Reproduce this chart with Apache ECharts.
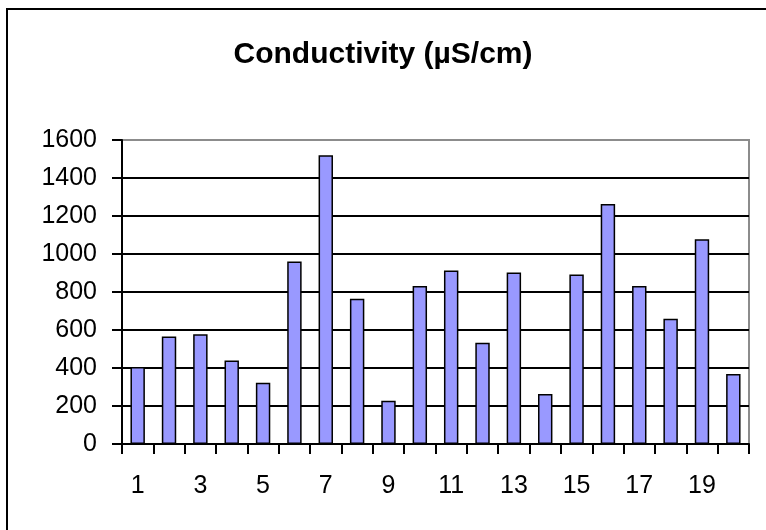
<!DOCTYPE html>
<html>
<head>
<meta charset="utf-8">
<script src="https://cdn.jsdelivr.net/npm/echarts@6/dist/echarts.min.js"></script>
<style>
  html, body { margin: 0; padding: 0; background: #fff; }
  #chart { width: 766px; height: 530px; }
</style>
</head>
<body>
<div id="chart"></div>
<script>
// sample numbers 1..20
const categories = ['1', '2', '3', '4', '5', '6', '7', '8', '9', '10',
  '11', '12', '13', '14', '15', '16', '17', '18', '19', '20']
// conductivity, µS/cm
const conductivity = [405, 566, 578, 440, 322, 960, 1520, 764, 228, 832,
  913, 533, 902, 263, 892, 1263, 832, 659, 1078, 368]
const yTicks = [0, 200, 400, 600, 800, 1000, 1200, 1400, 1600]

const font = '"Liberation Sans", Arial, sans-serif'
let chart = echarts.init(document.getElementById('chart'))

// top split line (1600) is the grey plot border, the rest black
const splitColors = yTicks.map((v, i) => i === yTicks.length - 1 ? '#8c8c8c' : '#000')

let option = {
  animation: false,
  backgroundColor: '#fff',
  title: {
    text: 'Conductivity (µS/cm)',
    left: 'center',
    top: 35,
    textStyle: {
      fontFamily: font,
      fontWeight: 'bold',
      fontSize: 30,
      color: '#000'
    }
  },
  graphic: [{
    type: 'rect',
    shape: { x: 7, y: 9, width: 800, height: 600 },
    style: { fill: 'none', stroke: '#000', lineWidth: 2 },
    silent: true
  }],
  grid: {
    left: 122,
    right: 17,
    top: 140,
    bottom: 86,
    show: true,
    backgroundColor: '#fff',
    borderColor: '#8c8c8c',
    borderWidth: 2
  },
  xAxis: {
    type: 'category',
    data: categories,
    axisLine: { lineStyle: { color: '#000', width: 2 } },
    axisTick: { show: true, length: 10, interval: 0, lineStyle: { color: '#000', width: 2 } },
    axisLabel: {
      interval: 1,
      margin: 30,
      fontFamily: font,
      fontSize: 25,
      color: '#000'
    },
    splitLine: { show: false }
  },
  yAxis: {
    type: 'value',
    min: 0,
    max: 1600,
    interval: 200,
    axisLine: { show: true, lineStyle: { color: '#000', width: 2 } },
    axisTick: { show: true, length: 10, lineStyle: { color: '#000', width: 2 } },
    axisLabel: {
      margin: 25,
      fontFamily: font,
      fontSize: 25,
      color: '#000',
      formatter: v => String(v)
    },
    splitLine: { show: true, lineStyle: { color: splitColors, width: 2 } }
  },
  series: [{
    type: 'bar',
    data: conductivity,
    barWidth: '46%',
    itemStyle: {
      color: '#9999ff',
      borderColor: '#000',
      borderWidth: 1.5
    }
  }]
}
chart.setOption(option)
</script>
</body>
</html>
